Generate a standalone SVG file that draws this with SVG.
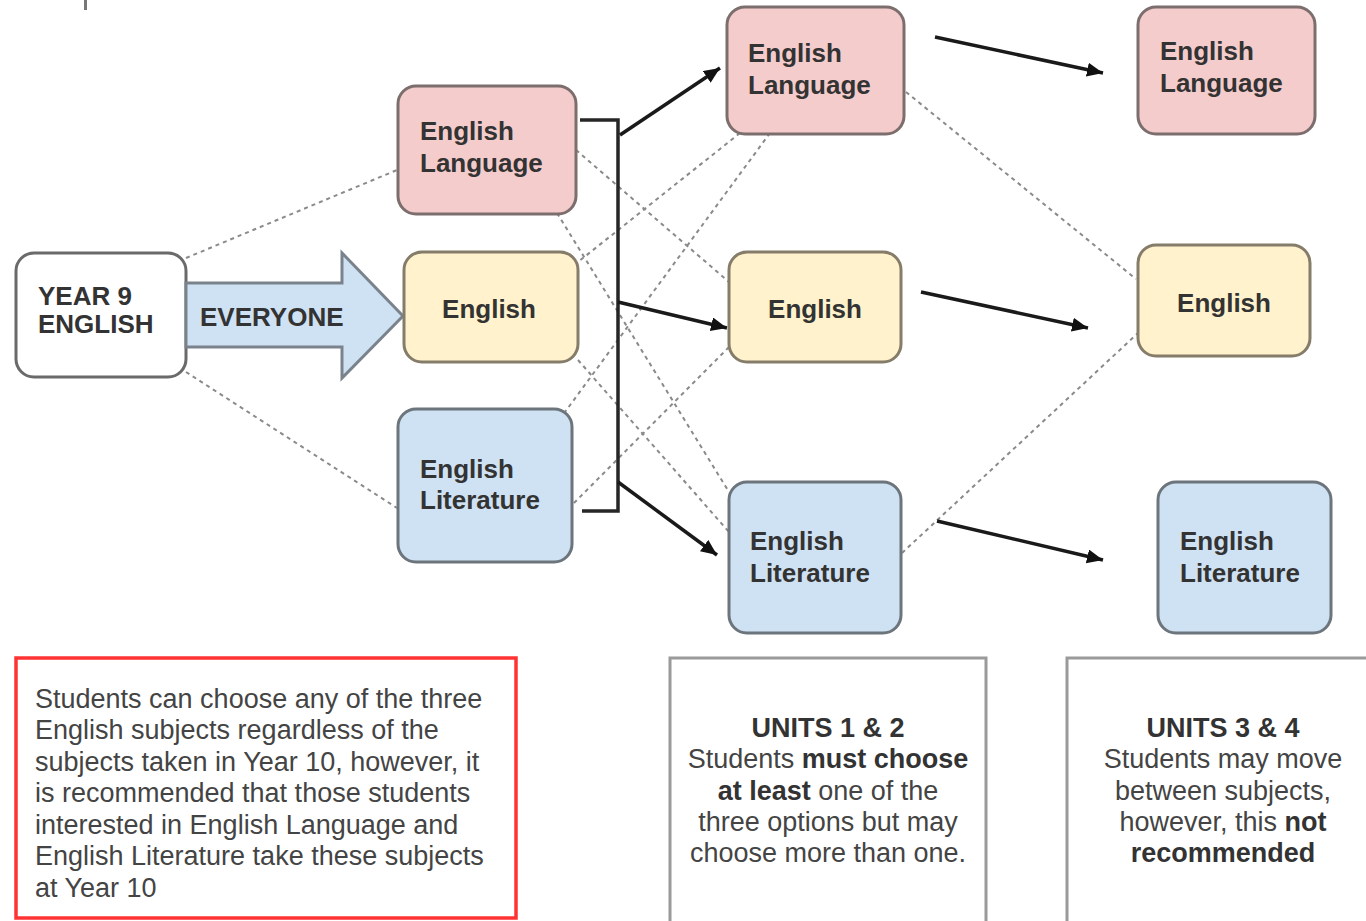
<svg xmlns="http://www.w3.org/2000/svg" width="1366" height="921" viewBox="0 0 1366 921">
<defs>
<marker id="ah" markerUnits="userSpaceOnUse" markerWidth="18" markerHeight="16" refX="16" refY="7" orient="auto">
<path d="M0,0 L16,7 L0,14 z" fill="#111"/>
</marker>
<style>
.lbl{font-family:"Liberation Sans",Arial,sans-serif;font-weight:bold;font-size:26px;fill:#333}
.body{font-family:"Liberation Sans",Arial,sans-serif;font-size:27px;fill:#444}
.b{font-weight:bold;fill:#333}
.pink{fill:#f4cccc;stroke:#7d6e6e;stroke-width:3}
.yel{fill:#fff2cc;stroke:#857d69;stroke-width:3}
.blue{fill:#cfe2f3;stroke:#6c747c;stroke-width:3}
.dash{stroke:#8a8a8a;stroke-width:2;stroke-dasharray:4 4;fill:none}
.solid{stroke:#1a1a1a;stroke-width:3.5;fill:none;marker-end:url(#ah)}
.note{fill:#fff;stroke:#9a9a9a;stroke-width:3}
</style>
</defs>
<rect width="1366" height="921" fill="#fff"/>
<rect x="84" y="0" width="3" height="10" fill="#777"/>

<g id="connectors">
<line class="dash" x1="186" y1="258" x2="397" y2="170"/>
<line class="dash" x1="186" y1="372" x2="397" y2="508"/>
<line class="dash" x1="576" y1="150" x2="729" y2="282"/>
<line class="dash" x1="557" y1="213" x2="729" y2="492"/>
<line class="dash" x1="740" y1="133" x2="578" y2="262"/>
<line class="dash" x1="770" y1="133" x2="565" y2="412"/>
<line class="dash" x1="729" y1="347" x2="572" y2="505"/>
<line class="dash" x1="578" y1="360" x2="729" y2="532"/>
<line class="dash" x1="906" y1="92" x2="1136" y2="279"/>
<line class="dash" x1="902" y1="553" x2="1138" y2="333"/>
<path d="M580,120 H618 V511 H582" fill="none" stroke="#262626" stroke-width="3.5"/>
<line class="solid" x1="620" y1="135" x2="720" y2="68"/>
<line class="solid" x1="618" y1="302" x2="727" y2="328"/>
<line class="solid" x1="618" y1="482" x2="717" y2="555"/>
<line class="solid" x1="935" y1="37" x2="1103" y2="73"/>
<line class="solid" x1="921" y1="292" x2="1088" y2="328"/>
<line class="solid" x1="937" y1="521" x2="1103" y2="560"/>
</g>

<g id="year9">
<rect x="16" y="253" width="170" height="124" rx="18" fill="#fff" stroke="#6a6a6a" stroke-width="3"/>
<text class="lbl" x="38" y="305">YEAR 9</text>
<text class="lbl" x="38" y="333">ENGLISH</text>
</g>

<g id="everyone">
<polygon points="186,283 342,283 342,253 403,316 342,378 342,347 186,347" fill="#cfe2f3" stroke="#7a838c" stroke-width="3"/>
<text class="lbl" x="200" y="326">EVERYONE</text>
</g>

<g id="lang1">
<rect class="pink" x="398" y="86" width="178" height="128" rx="18"/>
<text class="lbl" x="420" y="140">English</text>
<text class="lbl" x="420" y="172">Language</text>
</g>
<g id="eng1">
<rect class="yel" x="404" y="252" width="174" height="110" rx="18"/>
<text class="lbl" x="489" y="318" text-anchor="middle">English</text>
</g>
<g id="lit1">
<rect class="blue" x="398" y="409" width="174" height="153" rx="18"/>
<text class="lbl" x="420" y="478">English</text>
<text class="lbl" x="420" y="509">Literature</text>
</g>

<g id="lang2">
<rect class="pink" x="727" y="7" width="177" height="127" rx="18"/>
<text class="lbl" x="748" y="62">English</text>
<text class="lbl" x="748" y="94">Language</text>
</g>
<g id="eng2">
<rect class="yel" x="729" y="252" width="172" height="110" rx="18"/>
<text class="lbl" x="815" y="318" text-anchor="middle">English</text>
</g>
<g id="lit2">
<rect class="blue" x="729" y="482" width="172" height="151" rx="18"/>
<text class="lbl" x="750" y="550">English</text>
<text class="lbl" x="750" y="582">Literature</text>
</g>

<g id="lang3">
<rect class="pink" x="1138" y="7" width="177" height="127" rx="18"/>
<text class="lbl" x="1160" y="60">English</text>
<text class="lbl" x="1160" y="92">Language</text>
</g>
<g id="eng3">
<rect class="yel" x="1138" y="245" width="172" height="111" rx="18"/>
<text class="lbl" x="1224" y="312" text-anchor="middle">English</text>
</g>
<g id="lit3">
<rect class="blue" x="1158" y="482" width="173" height="151" rx="18"/>
<text class="lbl" x="1180" y="550">English</text>
<text class="lbl" x="1180" y="582">Literature</text>
</g>

<g id="note-left">
<rect x="16" y="658" width="500" height="260" fill="#fff" stroke="#ff3333" stroke-width="3.5"/>
<text class="body" x="35" y="708">Students can choose any of the three</text>
<text class="body" x="35" y="739">English subjects regardless of the</text>
<text class="body" x="35" y="771">subjects taken in Year 10, however, it</text>
<text class="body" x="35" y="802">is recommended that those students</text>
<text class="body" x="35" y="834">interested in English Language and</text>
<text class="body" x="35" y="865">English Literature take these subjects</text>
<text class="body" x="35" y="897">at Year 10</text>
</g>

<g id="note-units12">
<rect class="note" x="670" y="658" width="316" height="275"/>
<text class="body" x="828" y="737" text-anchor="middle"><tspan class="b">UNITS 1 &amp; 2</tspan></text>
<text class="body" x="828" y="768" text-anchor="middle">Students <tspan class="b">must choose</tspan></text>
<text class="body" x="828" y="800" text-anchor="middle"><tspan class="b">at least</tspan> one of the</text>
<text class="body" x="828" y="831" text-anchor="middle">three options but may</text>
<text class="body" x="828" y="862" text-anchor="middle">choose more than one.</text>
</g>

<g id="note-units34">
<rect class="note" x="1067" y="658" width="320" height="275"/>
<text class="body" x="1223" y="737" text-anchor="middle"><tspan class="b">UNITS 3 &amp; 4</tspan></text>
<text class="body" x="1223" y="768" text-anchor="middle">Students may move</text>
<text class="body" x="1223" y="800" text-anchor="middle">between subjects,</text>
<text class="body" x="1223" y="831" text-anchor="middle">however, this <tspan class="b">not</tspan></text>
<text class="body" x="1223" y="862" text-anchor="middle"><tspan class="b">recommended</tspan></text>
</g>
</svg>
